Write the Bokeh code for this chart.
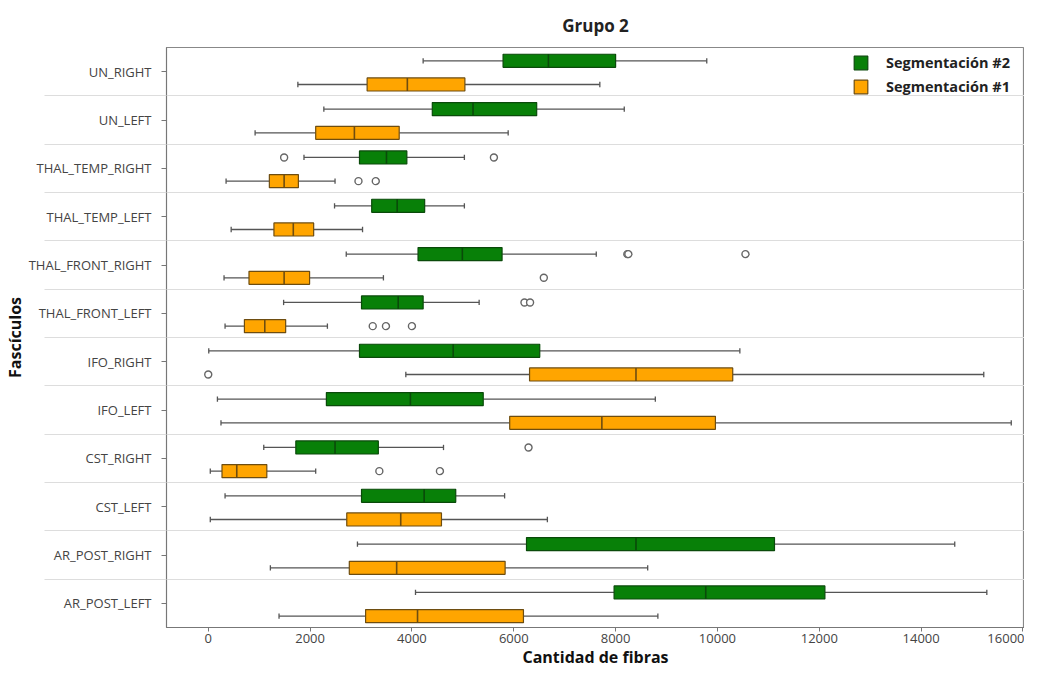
import numpy as np
from bokeh.plotting import figure
from bokeh.models import Range1d, FixedTicker, Legend, LegendItem, ColumnDataSource
from bokeh.embed import file_html
from bokeh.resources import INLINE

# ---------------- data ----------------
fasciculos = ["UN_RIGHT", "UN_LEFT", "THAL_TEMP_RIGHT", "THAL_TEMP_LEFT",
              "THAL_FRONT_RIGHT", "THAL_FRONT_LEFT", "IFO_RIGHT", "IFO_LEFT",
              "CST_RIGHT", "CST_LEFT", "AR_POST_RIGHT", "AR_POST_LEFT"]

# Segmentación #2 (green)
seg2_low  = [4220, 2270, 1880, 2480, 2710, 1480,    10,  180, 1090,  330,  2930,  4070]
seg2_q1   = [5790, 4400, 2970, 3210, 4120, 3010,  2970, 2320, 1720, 3010,  6250,  7970]
seg2_med  = [6680, 5200, 3500, 3710, 4990, 3730,  4810, 3970, 2490, 4240,  8400,  9770]
seg2_q3   = [8000, 6450, 3900, 4250, 5770, 4220,  6510, 5400, 3340, 4860, 11120, 12110]
seg2_high = [9790, 8170, 5030, 5030, 7620, 5320, 10440, 8780, 4620, 5820, 14660, 15290]

# Segmentación #1 (orange)
seg1_low  = [1760,  920,  350,  450,  310,  330,  3880,   250,   40,   40, 1220, 1390]
seg1_q1   = [3120, 2110, 1200, 1290,  800,  710,  6310,  5920,  270, 2720, 2770, 3090]
seg1_med  = [3910, 2870, 1490, 1670, 1490, 1110,  8400,  7730,  560, 3780, 3700, 4110]
seg1_q3   = [5040, 3750, 1770, 2070, 1990, 1520, 10300,  9960, 1150, 4580, 5830, 6190]
seg1_high = [7690, 5890, 2490, 3030, 3440, 2340, 15230, 15770, 2110, 6660, 8630, 8830]

# outliers
seg2_out_cat = ["THAL_TEMP_RIGHT", "THAL_TEMP_RIGHT", "THAL_FRONT_RIGHT", "THAL_FRONT_RIGHT",
                "THAL_FRONT_RIGHT", "THAL_FRONT_LEFT", "THAL_FRONT_LEFT", "CST_RIGHT"]
seg2_out_val = [1490, 5610, 8230, 8250, 10550, 6210, 6320, 6290]
seg1_out_cat = ["THAL_TEMP_RIGHT", "THAL_TEMP_RIGHT", "THAL_FRONT_RIGHT", "THAL_FRONT_LEFT",
                "THAL_FRONT_LEFT", "THAL_FRONT_LEFT", "IFO_RIGHT", "CST_RIGHT", "CST_RIGHT"]
seg1_out_val = [2950, 3290, 6590, 3230, 3490, 4000, 0, 3360, 4550]

x_ticks = [0, 2000, 4000, 6000, 8000, 10000, 12000, 14000, 16000]

# ---------------- styling constants ----------------
FONT = "Open Sans"
GREEN, GREEN_LINE = "#088008", "#0a4a0a"
ORANGE, ORANGE_LINE = "#FFA500", "#6e4d10"
WHISK = "#555555"
OFF2, OFF1 = 0.225, -0.265
BOX_H, CAP_H = 0.27, 0.11
GRID_OUT = 122

n = len(fasciculos)
rowpos = {c: n - 1 - i for i, c in enumerate(fasciculos)}

p = figure(width=1024, height=670, output_backend="svg", toolbar_location=None,
           x_range=Range1d(-820, 16030), y_range=Range1d(-0.5, n - 0.5),
           title="Grupo 2", min_border_left=160, min_border_right=0,
           min_border_top=47, min_border_bottom=0)

def add_series(low, q1, med, q3, high, off, fill, line):
    y = np.array([rowpos[c] for c in fasciculos], dtype=float) + off
    src = ColumnDataSource(dict(y=y, y0=y - BOX_H / 2, y1=y + BOX_H / 2,
                                c0=y - CAP_H / 2, c1=y + CAP_H / 2,
                                low=low, q1=q1, med=med, q3=q3, high=high))
    p.segment(x0="low", y0="y", x1="q1", y1="y", source=src, line_color=WHISK, line_width=1.3)
    p.segment(x0="q3", y0="y", x1="high", y1="y", source=src, line_color=WHISK, line_width=1.3)
    p.segment(x0="low", y0="c0", x1="low", y1="c1", source=src, line_color=WHISK, line_width=1.3)
    p.segment(x0="high", y0="c0", x1="high", y1="c1", source=src, line_color=WHISK, line_width=1.3)
    box = p.hbar(y="y", left="q1", right="q3", height=BOX_H, source=src,
                 fill_color=fill, line_color=line, line_width=1.2)
    p.segment(x0="med", y0="y0", x1="med", y1="y1", source=src, line_color=line, line_width=1.6)
    return box

def add_outliers(cats, vals, off):
    y = [rowpos[c] + off for c in cats]
    p.scatter(x=vals, y=y, size=7, marker="circle", fill_color="white",
              line_color="#666666", line_width=1.4)

g_box = add_series(seg2_low, seg2_q1, seg2_med, seg2_q3, seg2_high, OFF2, GREEN, GREEN_LINE)
o_box = add_series(seg1_low, seg1_q1, seg1_med, seg1_q3, seg1_high, OFF1, ORANGE, ORANGE_LINE)
add_outliers(seg2_out_cat, seg2_out_val, OFF2)
add_outliers(seg1_out_cat, seg1_out_val, OFF1)

# ---------------- axes ----------------
p.title.align = "center"
p.title.text_font = FONT
p.title.text_font_size = "17px"
p.title.text_font_style = "bold"
p.title.text_color = "#222222"
p.title.standoff = 22

p.yaxis.ticker = FixedTicker(ticks=list(range(n)), minor_ticks=[k + 0.5 for k in range(n - 1)])
p.yaxis.major_label_overrides = {rowpos[c]: c for c in fasciculos}
p.yaxis.axis_label = "Fascículos"
p.xaxis.ticker = FixedTicker(ticks=x_ticks)
p.xaxis.axis_label = "Cantidad de fibras"

for ax in (p.xaxis[0], p.yaxis[0]):
    ax.axis_label_text_font = FONT
    ax.axis_label_text_font_size = "16px"
    ax.axis_label_text_font_style = "bold"
    ax.axis_label_text_color = "#111111"
    ax.major_label_text_font = FONT
    ax.major_label_text_font_size = "13px"
    ax.major_label_text_color = "#444444"
    ax.axis_line_color = "#777777"
    ax.major_tick_line_color = "#777777"
    ax.major_tick_in = 0
    ax.major_tick_out = 5

p.xaxis.minor_tick_line_color = None
p.xaxis.major_tick_out = 4
p.xaxis.major_label_standoff = 2
p.xaxis.axis_label_standoff = 0
p.yaxis.minor_tick_in = 0
p.yaxis.minor_tick_out = GRID_OUT
p.yaxis.minor_tick_line_color = "#dddddd"
p.yaxis.major_label_standoff = 15 - GRID_OUT
p.yaxis.axis_label_standoff = 0

p.xgrid.grid_line_color = None
p.ygrid.grid_line_color = None
p.ygrid.minor_grid_line_color = "#dddddd"
p.outline_line_color = "#888888"
p.outline_line_width = 1.2

legend = Legend(items=[LegendItem(label="Segmentación #2", renderers=[g_box]),
                       LegendItem(label="Segmentación #1", renderers=[o_box])],
                location=(686, 531))
legend.label_text_font = FONT
legend.label_text_font_size = "14.5px"
legend.label_text_font_style = "bold"
legend.label_text_color = "#222222"
legend.glyph_width = 17
legend.glyph_height = 17
legend.spacing = 5
legend.padding = 2
legend.margin = 0
legend.label_standoff = 17
legend.border_line_color = None
legend.background_fill_alpha = 0
p.add_layout(legend)

open("out.html", "w").write(file_html(p, INLINE))
